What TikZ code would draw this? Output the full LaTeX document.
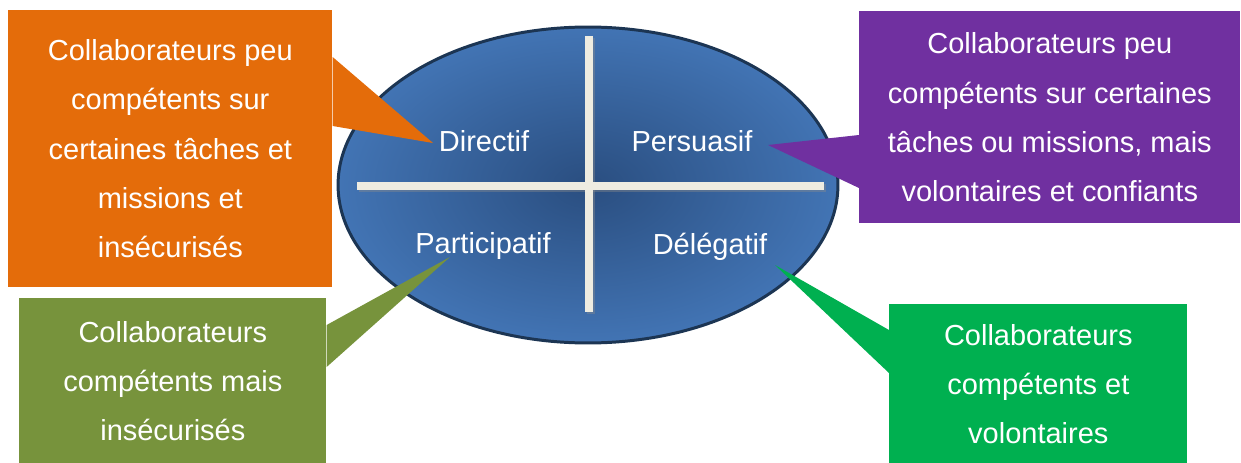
\documentclass[tikz,border=0pt]{standalone}
\usepackage{fontspec}
\setmainfont{Liberation Sans}
\usetikzlibrary{calc}

\definecolor{boxorange}{HTML}{E46C0A}
\definecolor{boxolive}{HTML}{77933C}
\definecolor{boxpurple}{HTML}{7030A0}
\definecolor{boxgreen}{HTML}{00B050}
\definecolor{ovalrim}{HTML}{1C3553}
\definecolor{ovalin}{HTML}{2A4E80}
\definecolor{ovalout}{HTML}{4274B4}
\definecolor{crossbar}{HTML}{EEECE1}

\begin{document}
\begin{tikzpicture}[x=0.02cm, y=-0.02cm,
        txt/.style={text=white, font=\fontsize{16.5}{28}\selectfont},
        bubble/.style={txt, align=center, inner sep=0pt, anchor=north west},
        quad/.style={txt, anchor=base},
        bar/.style={crossbar, line width=4.5pt}]
    \useasboundingbox (0,0) rectangle (1241,463);

    % the oval
    \shade[inner color=ovalin, outer color=ovalout] (588,185) ellipse (5cm and 3.16cm);
    \draw[ovalrim, line width=1.7pt] (588,185) ellipse (5cm and 3.16cm);

    % cross, with a faint shadow
    \draw[black!45, opacity=0.4, line width=4.5pt] (591,38) -- (591,314);
    \draw[black!45, opacity=0.4, line width=4.5pt] (359,188) -- (826,188);
    \draw[bar] (357,186) -- (824,186);
    \draw[bar] (589,36) -- (589,312);

    \node[quad] (directif) at (484,151) {Directif};
    \node[quad] (persuasif) at (692,151) {Persuasif};
    \node[quad] (participatif) at (483,253) {Participatif};
    \node[quad] (delegatif) at (710,254) {Délégatif};

    \coordinate (tipdir) at (433,143);
    \coordinate (tippers) at (768,145);
    \coordinate (tippart) at (450,257);
    \coordinate (tipdeleg) at (775,265);

    % the four bubbles
    \node[bubble, fill=boxorange, minimum width=6.48cm, minimum height=5.54cm]
        (orange) at (8,10) {Collaborateurs peu\\compétents sur\\certaines tâches et\\missions et\\insécurisés};
    \node[bubble, fill=boxolive, minimum width=6.14cm, minimum height=3.3cm]
        (olive) at (19,298) {Collaborateurs\\compétents mais\\insécurisés};
    \node[bubble, fill=boxpurple, minimum width=7.62cm, minimum height=4.24cm]
        (purple) at (859,11) {Collaborateurs peu\\compétents sur certaines\\tâches ou missions, mais\\volontaires et confiants};
    \node[bubble, fill=boxgreen, minimum width=5.96cm, minimum height=3.18cm]
        (green) at (889,304) {Collaborateurs\\compétents et\\volontaires};

    % pointers
    \fill[boxorange] ($(orange.north east)+(0,47)$) -- (tipdir) -- ($(orange.north east)+(0,116)$) -- cycle;
    \fill[boxolive] ($(olive.north east)+(0,27)$) -- (tippart) -- ($(olive.north east)+(0,69)$) -- cycle;
    \fill[boxpurple] ($(purple.north west)+(0,124)$) -- (tippers) -- ($(purple.north west)+(0,177)$) -- cycle;
    \fill[boxgreen] ($(green.north west)+(0,26)$) -- (tipdeleg) -- ($(green.north west)+(0,69)$) -- cycle;
\end{tikzpicture}
\end{document}
